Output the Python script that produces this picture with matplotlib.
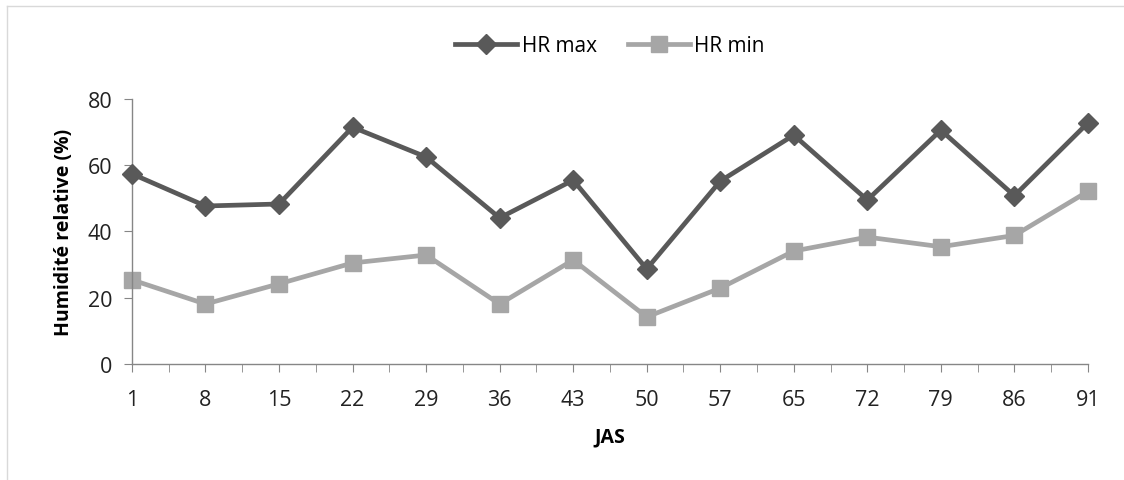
import numpy as np
import matplotlib.pyplot as plt
from matplotlib.lines import Line2D

jas = ["1", "8", "15", "22", "29", "36", "43", "50", "57", "65", "72", "79", "86", "91"]
hr_max = [57.4, 47.7, 48.3, 71.5, 62.5, 44.1, 55.5, 28.7, 55.2, 69.1, 49.5, 70.6, 50.8, 72.8]
hr_min = [25.4, 18.1, 24.2, 30.5, 32.9, 18.1, 31.4, 14.2, 22.9, 34.1, 38.3, 35.4, 38.8, 52.1]

plt.rcParams['font.family'] = ['Open Sans', 'DejaVu Sans']

fig = plt.figure(figsize=(11.24, 4.81), dpi=100)
ax = fig.add_axes([0.1174, 0.2412, 0.8505, 0.5509])

x = np.arange(len(jas))
dark = '#595959'
light = '#a6a6a6'
axis_c = '#868686'

ax.plot(x, hr_max, color=dark, lw=3.4, marker='D', ms=10, label='HR max', zorder=3, clip_on=False)
ax.plot(x, hr_min, color=light, lw=3.4, marker='s', ms=12, label='HR min', zorder=2, clip_on=False)

ax.set_xlim(0, len(jas) - 1)
ax.set_ylim(0, 80)
ax.set_xticks(x)
ax.set_xticklabels(jas)
ax.set_xticks(x[:-1] + 0.5, minor=True)
ax.set_yticks([0, 20, 40, 60, 80])

for s in ['top', 'right']:
    ax.spines[s].set_visible(False)
for s in ['left', 'bottom']:
    ax.spines[s].set_color(axis_c)
    ax.spines[s].set_linewidth(1)

ax.tick_params(axis='x', which='both', length=6, color=axis_c, labelsize=15.5, pad=12, labelcolor='#222222')
ax.tick_params(axis='y', length=6, color=axis_c, labelsize=15.5, pad=8, labelcolor='#222222')

ax.set_ylabel('Humidité relative (%)', fontsize=14, fontweight='bold', labelpad=10)
ax.set_xlabel('JAS', fontsize=14, fontweight='bold', labelpad=12)

ax.legend(loc='lower center', bbox_to_anchor=(0.5, 1.09), ncol=2, frameon=False,
          fontsize=15, handlelength=3, columnspacing=1.5, handletextpad=0.2)

# chart border (top and left visible)
fig.add_artist(Line2D([0.0062, 1.0], [0.985, 0.985], color='#d9d9d9', lw=1))
fig.add_artist(Line2D([0.0062, 0.0062], [0.0, 0.985], color='#d9d9d9', lw=1))

fig.savefig('out.png', dpi=100)
